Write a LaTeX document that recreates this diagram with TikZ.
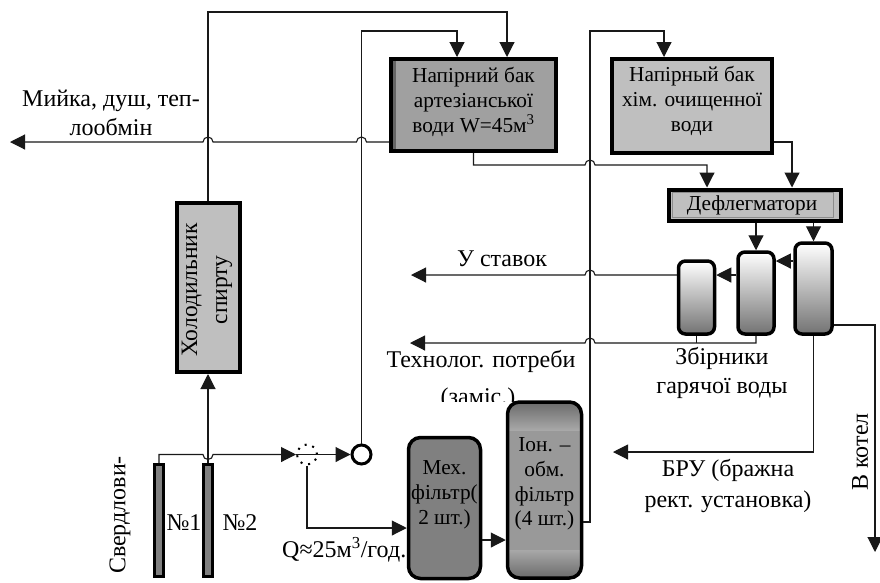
\documentclass[tikz,border=0pt]{standalone}
\usepackage{fontspec}
\setmainfont{Liberation Serif}
\usetikzlibrary{arrows.meta, shapes.geometric, calc}
\definecolor{boxlight}{HTML}{BFBFBF}
\definecolor{boxmid}{HTML}{A0A0A0}
\definecolor{boxdark}{HTML}{808080}
\pgfdeclareverticalshading{ionshade}{100bp}{color(0bp)=(black!58); color(25bp)=(black!58); color(33bp)=(black!34); color(33bp)=(black!40); color(67bp)=(black!40); color(67bp)=(black!34); color(75bp)=(black!58); color(100bp)=(black!58)}

\begin{document}
\begin{tikzpicture}[x=1pt, y=-1pt,
    pipe/.style={line width=1.1pt, black!90},
    feed/.style={pipe, -{Triangle[length=15pt, width=15pt]}},
    tank/.style={draw=black, line width=4pt, inner sep=0pt},
    tanktext/.style={inner sep=0pt, align=center, font=\fontsize{21.3}{24.8}\selectfont},
    column/.style={draw=black, line width=3.5pt, rounded corners=7pt, top color=white, bottom color=black!55, inner sep=0pt},
    filterbox/.style={draw=black, line width=3.5pt, rounded corners=12pt, inner sep=0pt},
    wellbox/.style={draw=black, line width=3pt, fill=boxdark, inner sep=0pt, minimum width=9pt, minimum height=112pt},
    label/.style={inner sep=0pt, align=center, font=\fontsize{24}{29}\selectfont}]
    \useasboundingbox (0,0) rectangle (880,582);

    % Tanks
    \node[tank, fill=boxmid, minimum width=165pt, minimum height=92pt] (bakA) at (473.5,105) {};
    \fill[black!60] ([shift={(4pt,-4pt)}]bakA.north west) rectangle ([shift={(7pt,4pt)}]bakA.south west);
    \node[tanktext] (bakAtext) at ([yshift=3pt]bakA) {Напірний бак\\артезіанської\\води W=45м\textsuperscript{3}};
    \node[tank, fill=boxlight, minimum width=160pt, minimum height=94pt] (bakB) at (692,106) {};
    \node[tanktext] (bakBtext) at ([yshift=5pt]bakB) {Напірный бак\\хім. очищенної\\води};
    \node[tank, fill=boxlight, minimum width=172pt, minimum height=31pt] (defl) at (755,205) {};
    \draw[black!45] ([shift={(5pt,-5pt)}]defl.north west) rectangle ([shift={(-10pt,5pt)}]defl.south east);
    \node[tanktext] (defltext) at (752,205) {Дефлегматори};
    \node[tank, fill=boxlight, minimum width=63pt, minimum height=169pt] (cooler) at (208,287.5) {};
    \node[rotate=90, inner sep=0pt, align=center, font=\fontsize{23.5}{30}\selectfont] (coolertext) at (207,290) {Холодильник\\спирту};

    % Collectors
    \node[column, minimum width=36pt, minimum height=73pt] (colA) at (696.5,297.5) {};
    \node[column, minimum width=36pt, minimum height=82pt] (colB) at (756,293) {};
    \node[column, minimum width=37pt, minimum height=91pt] (colC) at (813.5,288.5) {};

    % Filters
    \node[filterbox, fill=boxdark, minimum width=72pt, minimum height=141pt] (mech) at (444.5,508) {};
    \node[tanktext] (mechtext) at ([yshift=13pt]mech) {Мех.\\фільтр(\\2 шт.)};
    \node[filterbox, shade, shading=ionshade, minimum width=74pt, minimum height=176pt] (ion) at (544.5,490) {};
    \node[tanktext] (iontext) at ([yshift=6pt]ion) {Іон. –\\обм.\\фільтр\\(4 шт.)};

    % Wells, valve, outlet
    \node[wellbox] (wellA) at (159,520.5) {};
    \node[wellbox] (wellB) at (208,520.5) {};
    \node[circle, draw=black, line width=2pt, dash pattern=on 2pt off 6pt, minimum size=20pt, inner sep=0pt] (valve) at (307,454.5) {};
    \node[circle, draw=black, line width=3pt, fill=white, minimum size=19pt, inner sep=0pt] (outlet) at (361.5,454.5) {};

    % Free ends and crossings
    \coordinate (wash) at (10,142);
    \coordinate (pond) at (411,275);
    \coordinate (needs) at (410,343);
    \coordinate (bru) at (613,452);
    \coordinate (boiler) at (875,552);
    \coordinate (hopA) at (208,142);
    \coordinate (hopB) at (361.5,142);
    \coordinate (hopC) at (590,165);
    \coordinate (hopD) at (590,275);
    \coordinate (hopE) at (590,343);
    \coordinate (hopF) at (208,454.5);

    % Water to the tanks
    \draw[feed] (cooler.north) |- (507,12) -- (507,0 |- bakA.north);
    \draw[feed] (outlet.north) |- (457,31) -- (457,0 |- bakA.north);
    \draw[feed] (ion.east |- 0,522) -| (590,31) -| (664,0 |- bakB.north);

    % Wash line
    \draw[feed] (bakA.west |- hopB) -- ([xshift=5pt]hopB) arc[start angle=0, end angle=180, radius=5pt] -- ([xshift=5pt]hopA) arc[start angle=0, end angle=180, radius=5pt] -- (wash);

    % Tanks to dephlegmators
    \draw[feed] (bakA.south) |- ([xshift=-5pt]hopC) arc[start angle=180, end angle=0, radius=5pt] -| (707,0 |- defl.north);
    \draw[feed] (bakB.east |- 0,142) -| (792,0 |- defl.north);
    \draw[feed] (colB.north |- defl.south) -- (colB.north);
    \draw[feed] (colC.north |- defl.south) -- (colC.north);

    % Collectors
    \draw[feed] (colC.west |- 0,261) -- (colB.east |- 0,261);
    \draw[feed] (colB.west |- 0,275) -- (colA.east |- 0,275);
    \draw[feed] (colA.west |- hopD) -- ([xshift=5pt]hopD) arc[start angle=0, end angle=180, radius=5pt] -- (pond);
    \draw[pipe] (colA.south) -- (colA.south |- hopE);
    \draw[feed] (colB.south) |- ([xshift=5pt]hopE) arc[start angle=0, end angle=180, radius=5pt] -- (needs);
    \draw[feed] (colC.south) |- (bru);
    \draw[feed] (colC.east |- 0,325) -| (boiler);

    % Wells to valve and filters
    \draw[feed] (wellB.north) -- (cooler.south);
    \draw[feed] (wellA.north) |- ([xshift=-5pt]hopF) arc[start angle=180, end angle=360, radius=5pt] -- (valve.west);
    \draw[feed] (valve.west) -- (outlet.west);
    \draw[feed] (valve.south) |- (mech.west |- 0,528);
    \draw[feed] (mech.east |- 0,540) -- (ion.west |- 0,540);

    % Labels
    \node[label] (washtext) at (111,113) {Мийка, душ, теп-\\лообмін};
    \node[label] (pondtext) at (502,259) {У ставок};
    \node[label] (needstext) at (481,361) {Технолог. потреби};
    \begin{scope}
        \clip (430,380) rectangle (530,401);
        \node[label] (needsmore) at (478,399) {(заміс.)};
    \end{scope}
    \node[label] (coltext) at (722,372.5) {Збірники\\гарячої воды};
    \node[label] (brutext) at (728,485.5) {БРУ (бражна\\[2pt]рект. установка)};
    \node[label, rotate=90] (boilertext) at (860,452) {В котел};
    \node[label, rotate=90] (wellstext) at (120,515) {Свердлови-};
    \node[label] (noA) at (184,523) {№1};
    \node[label] (noB) at (240,523) {№2};
    \node[label, anchor=west] (flowtext) at (282,550) {Q≈25м\textsuperscript{3}/год.};
\end{tikzpicture}
\end{document}
